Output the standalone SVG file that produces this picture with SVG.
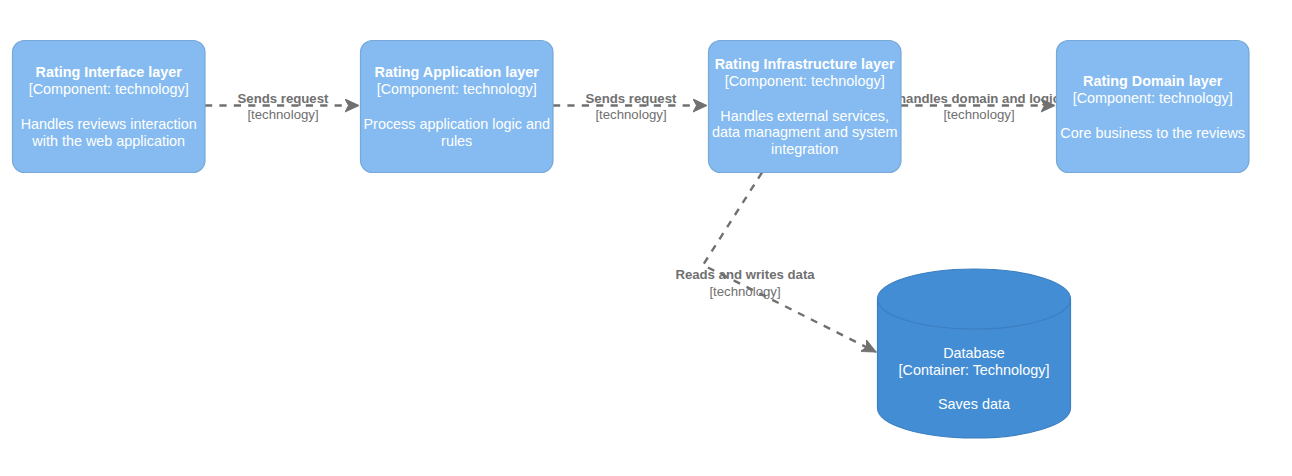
<svg xmlns="http://www.w3.org/2000/svg" width="1292" height="476" viewBox="0 0 1292 476">
<style>
.box{fill:#85BBF0;stroke:#78A8D8;stroke-width:1.2}
.db{fill:#438DD5;stroke:#3C7FC0;stroke-width:1.2}
.t{font-family:"Liberation Sans",Arial,sans-serif;font-size:14.4px;fill:#FFFFFF;text-anchor:middle}
.b{font-weight:bold}
.edge{fill:none;stroke:#707070;stroke-width:2.4;stroke-dasharray:7.2 7.2}
.lbl{font-family:"Liberation Sans",Arial,sans-serif;font-size:13.2px;fill:#707070;text-anchor:middle}
</style>
<defs>
<marker id="arr" markerUnits="userSpaceOnUse" markerWidth="16" markerHeight="14" refX="14" refY="7" orient="auto" viewBox="0 0 16 14">
<path d="M0,0.5 L14,7 L0,13.5 L3.5,7 Z" fill="#707070" stroke="#707070" stroke-width="1"/>
</marker>
</defs>
<rect width="1292" height="476" fill="#FFFFFF"/>
<g id="connectors">
<line class="edge" x1="205" y1="105.5" x2="359" y2="105.5" marker-end="url(#arr)"/>
<line class="edge" x1="553" y1="105.5" x2="707" y2="105.5" marker-end="url(#arr)"/>
<line class="edge" x1="901" y1="105.5" x2="1055" y2="105.5" marker-end="url(#arr)"/>
<polyline class="edge" points="762,172.5 703,265 876,352" marker-end="url(#arr)"/>
<text class="lbl b" x="283" y="103">Sends request</text>
<text class="lbl" x="283" y="119">[technology]</text>
<text class="lbl b" x="631" y="103">Sends request</text>
<text class="lbl" x="631" y="119">[technology]</text>
<text class="lbl b" x="979" y="103">handles domain and logic</text>
<text class="lbl" x="979" y="119">[technology]</text>
<text class="lbl b" x="745" y="279">Reads and writes data</text>
<text class="lbl" x="745" y="296">[technology]</text>
</g>
<g id="interface">
<rect class="box" x="12.5" y="40.5" width="192.5" height="132" rx="12" ry="12"/>
<text class="t b" x="108.7" y="77">Rating Interface layer</text>
<text class="t" x="108.7" y="94">[Component: technology]</text>
<text class="t" x="108.7" y="129">Handles reviews interaction</text>
<text class="t" x="108.7" y="146">with the web application</text>
</g>
<g id="application">
<rect class="box" x="360.5" y="40.5" width="192.5" height="132" rx="12" ry="12"/>
<text class="t b" x="456.7" y="77">Rating Application layer</text>
<text class="t" x="456.7" y="94">[Component: technology]</text>
<text class="t" x="456.7" y="129">Process application logic and</text>
<text class="t" x="456.7" y="146">rules</text>
</g>
<g id="infrastructure">
<rect class="box" x="708.5" y="40.5" width="192.5" height="132" rx="12" ry="12"/>
<text class="t b" x="804.7" y="68.5">Rating Infrastructure layer</text>
<text class="t" x="804.7" y="85.5">[Component: technology]</text>
<text class="t" x="804.7" y="120.5">Handles external services,</text>
<text class="t" x="804.7" y="137">data managment and system</text>
<text class="t" x="804.7" y="154">integration</text>
</g>
<g id="domain">
<rect class="box" x="1056.5" y="40.5" width="192.5" height="132" rx="12" ry="12"/>
<text class="t b" x="1152.7" y="86">Rating Domain layer</text>
<text class="t" x="1152.7" y="103">[Component: technology]</text>
<text class="t" x="1152.7" y="137.5">Core business to the reviews</text>
</g>
<g id="database">
<path class="db" d="M877.5,299 A96.5,30 0 0 1 1070.5,299 V408 A96.5,30 0 0 1 877.5,408 Z"/>
<path d="M877.5,299 A96.5,30 0 0 0 1070.5,299" fill="none" stroke="#3C7FC0" stroke-width="1.2"/>
<text class="t" x="974" y="357.5">Database</text>
<text class="t" x="974" y="374.5">[Container: Technology]</text>
<text class="t" x="974" y="409">Saves data</text>
</g>
</svg>
